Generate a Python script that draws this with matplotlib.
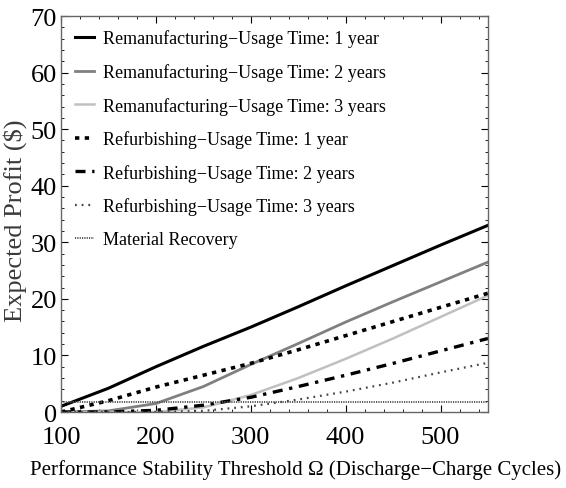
import matplotlib
matplotlib.use("Agg")
import matplotlib.pyplot as plt
from matplotlib.ticker import MultipleLocator
import numpy as np

plt.rcParams['font.family'] = ['Liberation Serif', 'DejaVu Serif']

omega = [100, 150, 200, 250, 300, 350, 400, 450, 500, 550]
reman_1y = [1.0, 4.2, 8.0, 11.6, 15.0, 18.6, 22.3, 25.9, 29.5, 33.0]
reman_2y = [0.0, 0.2, 1.5, 4.5, 8.4, 12.1, 15.9, 19.5, 23.0, 26.5]
reman_3y = [0.0, 0.0, 0.0, 0.8, 3.0, 6.0, 9.4, 13.0, 16.8, 20.6]
refurb_1y = [0.0, 2.0, 4.4, 6.5, 8.6, 11.0, 13.5, 16.0, 18.5, 21.0]
refurb_2y = [0.0, 0.0, 0.3, 1.2, 2.6, 4.5, 6.5, 8.6, 10.8, 13.0]
refurb_3y = [0.0, 0.0, 0.0, 0.2, 1.0, 2.2, 3.6, 5.2, 7.0, 8.7]
material = [1.8] * len(omega)

labels = [
    "Remanufacturing\u2212Usage Time: 1 year",
    "Remanufacturing\u2212Usage Time: 2 years",
    "Remanufacturing\u2212Usage Time: 3 years",
    "Refurbishing\u2212Usage Time: 1 year",
    "Refurbishing\u2212Usage Time: 2 years",
    "Refurbishing\u2212Usage Time: 3 years",
    "Material Recovery",
]

fig = plt.figure(figsize=(5.66, 4.89), dpi=100)
ax = fig.add_axes([61/566, 1-413/489, 427/566, 396/489])

ax.plot(omega, reman_1y, color='black', lw=2.2, label=labels[0])
ax.plot(omega, reman_2y, color='#808080', lw=2.0, label=labels[1])
ax.plot(omega, reman_3y, color='#c0c0c0', lw=1.8, label=labels[2])
ax.plot(omega, refurb_1y, color='black', lw=2.6, ls=(0, (1.2, 1.5)), label=labels[3])
ax.plot(omega, refurb_2y, color='black', lw=2.4, ls=(0, (3, 2, 1, 2)), label=labels[4])
ax.plot(omega, refurb_3y, color='#444444', lw=1.6, ls=(0, (0.8, 2.2)), label=labels[5])
ax.plot(omega, material, color='#555555', lw=1.4, ls=(0, (0.6, 0.6)), label=labels[6])

ax.set_xlim(100, 550)
ax.set_ylim(0, 70)
ax.xaxis.set_major_locator(MultipleLocator(100))
ax.xaxis.set_minor_locator(MultipleLocator(20))
ax.yaxis.set_major_locator(MultipleLocator(10))
ax.yaxis.set_minor_locator(MultipleLocator(2))
ax.tick_params(which='both', direction='in', top=True, right=True, labelsize=19)
ax.tick_params(axis='x', which='major', pad=10)
ax.tick_params(axis='y', which='major', pad=3)
ax.tick_params(which='major', length=5, width=0.8)
ax.tick_params(which='minor', length=2.5, width=0.6)
for s in ax.spines.values():
    s.set_color('#666666')
    s.set_linewidth(1.0)

ax.set_xlabel("Performance Stability Threshold \u03a9 (Discharge\u2212Charge Cycles)",
              fontsize=15)
ax.xaxis.set_label_coords(0.55, -0.144)
ax.xaxis.label.set_va('center')
ax.set_ylabel("Expected Profit ($)", fontsize=19, color='#3a3a3a')
ax.yaxis.set_label_coords(-0.107, 0.485)
ax.yaxis.label.set_va('center')

leg = ax.legend(loc='upper left', fontsize=13, frameon=False, handlelength=1.1,
                labelspacing=0.87, borderaxespad=0.4, handletextpad=0.5,
                borderpad=0.35)

fig.savefig("out.png", dpi=100)
